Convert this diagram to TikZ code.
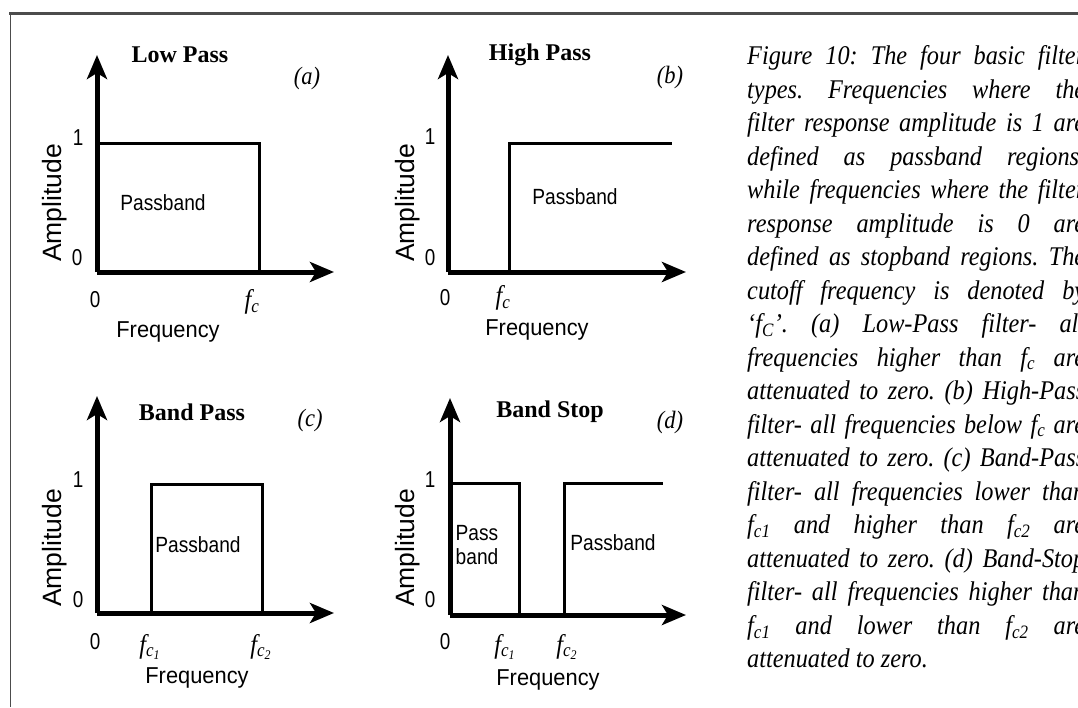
\documentclass[tikz,border=0pt]{standalone}
\usepackage{fontspec}
\setmainfont{Liberation Serif}
\setsansfont{Liberation Sans}
\newfontfamily\capfont{Liberation Serif}[FakeStretch=0.9]
\newfontfamily\passfont{Liberation Sans}[FakeStretch=0.87]
\newfontfamily\freqfont{Liberation Sans}[FakeStretch=0.95]
\newfontfamily\numfont{Liberation Sans}[FakeStretch=0.82]
\usetikzlibrary{arrows.meta}
\tikzset{
  axis/.style={line width=5pt, -{Stealth[length=24pt,width=20pt,inset=6pt]}},
  resp/.style={line width=3pt, line join=miter},
  ttl/.style={font=\fontsize{24}{26}\selectfont\bfseries, inner sep=0},
  tag/.style={font=\capfont\fontsize{25}{27}\selectfont\itshape, inner sep=0},
  amp/.style={font=\sffamily\fontsize{26.5}{28}\selectfont, rotate=90, inner sep=0},
  freq/.style={font=\freqfont\fontsize{23}{25}\selectfont, inner sep=0},
  pb/.style={font=\passfont\fontsize{22}{24}\selectfont, inner sep=0, align=left},
  num/.style={font=\numfont\fontsize{23}{25}\selectfont, inner sep=0},
  fcl/.style={font=\capfont\fontsize{27}{29}\selectfont\itshape, inner sep=0},
  frame/.style={draw=black!70},
}
\newcommand{\sfc}[1]{f\textsubscript{#1}}
\newcommand{\pfc}[1]{f\textsubscript{c\textsubscript{#1}}}
\begin{document}
\begin{tikzpicture}[x=1pt,y=-1pt]
\useasboundingbox (0,0) rectangle (1078,707);
\clip (0,0) rectangle (1078,707);
\fill[white] (0,0) rectangle (1078,707);
% frame
\coordinate (ftl) at (9,13.5);
\coordinate (ftr) at (1078,13.5);
\coordinate (fbl) at (10.5,707);
\draw[frame, line width=2.5pt] (ftl) -- (ftr);
\draw[frame, line width=1.6pt] (10.5,13.5) -- (fbl);

% ---------- panel (a) ----------
\coordinate (oa) at (97,272);
\coordinate (ya) at (97,55);
\coordinate (xa) at (334,272);
\draw[resp] (97,143) -- (259,143) -- (259,272);
\draw[axis] (oa) -- (ya);
\draw[axis] (oa) -- (xa);
\node[ttl] (ta) at (180,55) {Low Pass};
\node[tag] (ga) at (307,78) {(a)};
\node[amp] (aa) at (55,203) {Amplitude};
\node[num] (a1) at (78,138) {1};
\node[num] (a0) at (77,258) {0};
\node[num] (a00) at (95,300) {0};
\node[fcl] (afc) at (252,302) {\sfc{c}};
\node[freq] (fa) at (168,332) {Frequency};
\node[pb] (pa) at (163,203) {Passband};

% ---------- panel (b) ----------
\coordinate (ob) at (448,272);
\coordinate (yb) at (448,55);
\coordinate (xb) at (686,272);
\draw[resp] (509,272) -- (509,143) -- (672,143);
\draw[axis] (ob) -- (yb);
\draw[axis] (ob) -- (xb);
\node[ttl] (tb) at (540,55) {High Pass};
\node[tag] (gb) at (670,77) {(b)};
\node[amp] (ab) at (408,203) {Amplitude};
\node[num] (b1) at (430,137) {1};
\node[num] (b0) at (430,258) {0};
\node[num] (b00) at (445,298) {0};
\node[fcl] (bfc) at (503,298) {\sfc{c}};
\node[freq] (fb) at (537,330) {Frequency};
\node[pb] (pbb) at (575,197) {Passband};

% ---------- panel (c) ----------
\coordinate (oc) at (97,613);
\coordinate (yc) at (97,396);
\coordinate (xc) at (334,613);
\draw[resp] (151,613) -- (151,484) -- (262,484) -- (262,613);
\draw[axis] (oc) -- (yc);
\draw[axis] (oc) -- (xc);
\node[ttl] (tc) at (192,412) {Band Pass};
\node[tag] (gc) at (310,420) {(c)};
\node[amp] (ac) at (55,548) {Amplitude};
\node[num] (c1) at (78,480) {1};
\node[num] (c0) at (78,600) {0};
\node[num] (c00) at (95,642) {0};
\node[fcl] (cfa) at (150,647) {\pfc{1}};
\node[fcl] (cfb) at (261,647) {\pfc{2}};
\node[freq] (fc) at (197,678) {Frequency};
\node[pb] (pc) at (198,545) {Passband};

% ---------- panel (d) ----------
\coordinate (od) at (450,615);
\coordinate (yd) at (450,398);
\coordinate (xd) at (686,615);
\draw[resp] (450,483) -- (519,483) -- (519,615);
\draw[resp] (564,615) -- (564,483) -- (663,483);
\draw[axis] (od) -- (yd);
\draw[axis] (od) -- (xd);
\node[ttl] (td) at (550,412) {Band Stop};
\node[tag] (gd) at (670,422) {(d)};
\node[amp] (ad) at (408,548) {Amplitude};
\node[num] (d1) at (430,480) {1};
\node[num] (d0) at (430,600) {0};
\node[num] (d00) at (445,642) {0};
\node[fcl] (dfa) at (505,647) {\pfc{1}};
\node[fcl] (dfb) at (567,647) {\pfc{2}};
\node[freq] (fd) at (548,680) {Frequency};
\node[pb] (pd1) at (477,545) {Pass\\band};
\node[pb] (pd2) at (613,543) {Passband};

% ---------- caption ----------
\node[anchor=north west, inner sep=0, text width=338pt, align=justify,
      font=\capfont\fontsize{27}{33.5}\selectfont\itshape\frenchspacing] (cap) at (747,45.5) {%
Figure 10: The four basic filter\linebreak
types. Frequencies where the\linebreak
filter response amplitude is 1 are\linebreak
defined as passband regions,\linebreak
while frequencies where the filter\linebreak
response amplitude is 0 are\linebreak
defined as stopband regions. The\linebreak
cutoff frequency is denoted by\linebreak
‘\sfc{C}’. (a) Low-Pass filter- all\linebreak
frequencies higher than \sfc{c} are\linebreak
attenuated to zero. (b) High-Pass\linebreak
filter- all frequencies below \sfc{c} are\linebreak
attenuated to zero. (c) Band-Pass\linebreak
filter- all frequencies lower than\linebreak
\sfc{c1} and higher than \sfc{c2} are\linebreak
attenuated to zero. (d) Band-Stop\linebreak
filter- all frequencies higher than\linebreak
\sfc{c1} and lower than \sfc{c2} are\linebreak
attenuated to zero.};
\end{tikzpicture}
\end{document}
